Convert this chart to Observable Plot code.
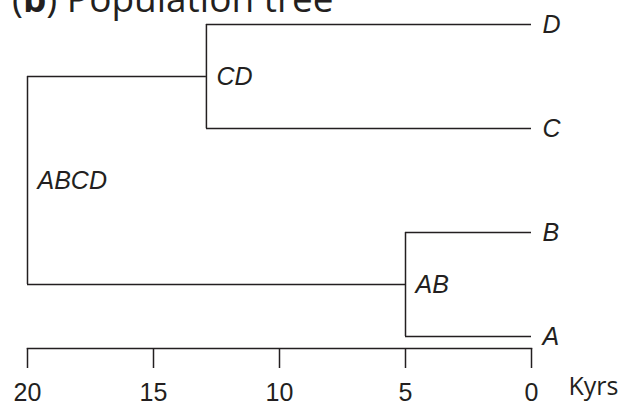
<!DOCTYPE html>
<html>
<head>
<meta charset="utf-8">
<script src="https://cdn.jsdelivr.net/npm/d3@7"></script>
<script src="https://cdn.jsdelivr.net/npm/@observablehq/plot@0.6"></script>
<style>
  html, body { margin: 0; padding: 0; background: #fff; overflow: hidden; }
  #wrap { position: relative; width: 620px; height: 404px; overflow: hidden; }
  #title { position: absolute; left: 12px; top: -21px; font-family: "Open Sans", sans-serif; font-size: 37px; line-height: 1; color: #231f20; white-space: nowrap; z-index: 2; }
  #chart { position: absolute; left: 0; top: 0; }
</style>
</head>
<body>
<div id="wrap">
  <div id="title">(<b>b</b>) Population tree</div>
  <div id="chart"></div>
</div>
<script>
// Tree data
const nodeNames = ["ABCD", "CD", "AB", "D", "C", "B", "A"];
const nodeTimes = [20, 12.9, 5, 0, 0, 0, 0];           // Kyrs before present
const nodeParents = [null, "ABCD", "ABCD", "CD", "CD", "AB", "AB"];
const leafOrder = ["A", "B", "C", "D"];                  // bottom to top
const xTicks = [20, 15, 10, 5, 0];
const axisLabel = "Kyrs";

// Layout: leaves on rank, internal nodes at mean of children
const nodes = nodeNames.map((name, i) => ({name, time: nodeTimes[i], parent: nodeParents[i]}));
const byName = new Map(nodes.map(d => [d.name, d]));
nodes.forEach(d => d.children = nodes.filter(c => c.parent === d.name));
function place(d) {
  if (d.children.length === 0) d.rank = leafOrder.indexOf(d.name);
  else { d.children.forEach(place); d.rank = d3.mean(d.children, c => c.rank); }
}
place(byName.get("ABCD"));

const horiz = nodes.filter(d => d.parent).map(d => ({y: d.rank, x1: byName.get(d.parent).time, x2: d.time}));
const vert = nodes.filter(d => d.children.length).map(d => ({x: d.time, y1: d3.min(d.children, c => c.rank), y2: d3.max(d.children, c => c.rank)}));
const leaves = nodes.filter(d => d.children.length === 0);
const internal = nodes.filter(d => d.children.length > 0);

const ink = "#231f20";
const sans = "Liberation Sans, Arial, sans-serif";
const chart = Plot.plot({
  width: 620,
  height: 404,
  marginLeft: 27,
  marginRight: 89,
  marginTop: 24,
  marginBottom: 56,
  style: {background: "transparent", color: ink, overflow: "visible"},
  x: {domain: [20, 0], range: [27, 531]},
  y: {domain: [0, 3], range: [336, 24], axis: null},
  marks: [
    Plot.frame({anchor: "bottom", stroke: ink, strokeWidth: 1.5}),
    Plot.axisX({ticks: xTicks, tickSize: 20, tickPadding: 15, tickFormat: d => String(d), fontSize: 25, fontFamily: sans, label: null, stroke: ink, strokeWidth: 1.5, fill: ink}),
    Plot.ruleY(horiz, {y: "y", x1: "x1", x2: "x2", stroke: ink, strokeWidth: 1.5}),
    Plot.ruleX(vert, {x: "x", y1: "y1", y2: "y2", stroke: ink, strokeWidth: 1.5}),
    Plot.text(leaves, {x: "time", y: "rank", text: "name", dx: 11, textAnchor: "start", fontSize: 25, fontStyle: "italic", fontFamily: sans, fill: ink}),
    Plot.text(internal, {x: "time", y: "rank", text: "name", dx: 10, textAnchor: "start", fontSize: 25, fontStyle: "italic", fontFamily: sans, fill: ink}),
    Plot.text([axisLabel], {frameAnchor: "bottom-right", dx: 37, dy: 46, textAnchor: "start", fontSize: 25, fontFamily: "Open Sans, sans-serif", fill: ink})
  ]
});
document.getElementById("chart").appendChild(chart);
</script>
</body>
</html>
